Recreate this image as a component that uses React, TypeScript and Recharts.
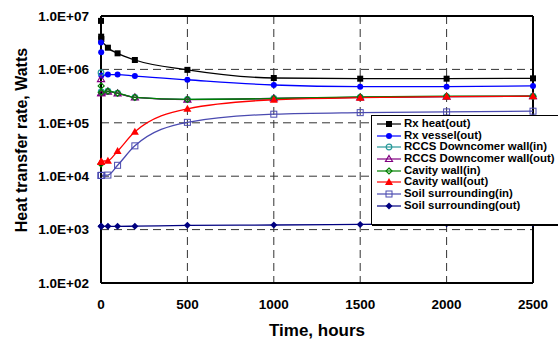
import React from "react";
import {
  LineChart,
  Line,
  XAxis,
  YAxis,
  CartesianGrid,
  ReferenceLine,
} from "recharts";

const times = [0, 1, 2, 40, 96, 196, 500, 1000, 1500, 2000, 2500];

const rxHeat = [8.1e6, 4.1e6, 3.7e6, 2.55e6, 2.0e6, 1.5e6, 9.8e5, 6.9e5, 6.7e5, 6.7e5, 6.8e5];
const rxVessel = [3.2e6, 2.1e6, 7.7e5, 8.0e5, 8.0e5, 7.5e5, 6.4e5, 5.1e5, 4.75e5, 4.75e5, 4.9e5];
const rccsIn = [8.7e5, 3.8e5, 3.7e5, 3.9e5, 3.6e5, 3.0e5, 2.75e5, 2.85e5, 3.0e5, 3.1e5, 3.15e5];
const rccsOut = [6.6e5, 3.6e5, 3.6e5, 3.85e5, 3.55e5, 3.0e5, 2.72e5, 2.85e5, 3.0e5, 3.1e5, 3.15e5];
const cavityIn = [1.7e4, 4.9e5, 3.7e5, 3.9e5, 3.6e5, 3.0e5, 2.75e5, 2.85e5, 3.05e5, 3.15e5, 3.15e5];
const cavityOut = [1.86e4, 1.86e4, 1.9e4, 1.95e4, 2.95e4, 6.8e4, 1.83e5, 2.7e5, 2.95e5, 3.1e5, 3.15e5];
const soilIn = [1.03e4, 1.03e4, 1.04e4, 1.05e4, 1.6e4, 3.7e4, 1.02e5, 1.45e5, 1.55e5, 1.6e5, 1.65e5];
const soilOut = [1.15e3, 1.15e3, 1.15e3, 1.15e3, 1.15e3, 1.16e3, 1.2e3, 1.22e3, 1.25e3, 1.28e3, 1.3e3];

const xTicks = [0, 500, 1000, 1500, 2000, 2500];
const yTicks = [1e2, 1e3, 1e4, 1e5, 1e6, 1e7];

const FONT = "'Liberation Sans', Arial, sans-serif";

type Shape = "square" | "circle" | "ocircle" | "otriangle" | "odiamond" | "triangle" | "osquare" | "diamond";

const series: { key: string; name: string; color: string; shape: Shape; values: number[] }[] = [
  { key: "rxHeat", name: "Rx heat(out)", color: "#000000", shape: "square", values: rxHeat },
  { key: "rxVessel", name: "Rx vessel(out)", color: "#0000ff", shape: "circle", values: rxVessel },
  { key: "rccsIn", name: "RCCS Downcomer wall(in)", color: "#2a9a9a", shape: "ocircle", values: rccsIn },
  { key: "rccsOut", name: "RCCS Downcomer wall(out)", color: "#800080", shape: "otriangle", values: rccsOut },
  { key: "cavityIn", name: "Cavity wall(in)", color: "#008000", shape: "odiamond", values: cavityIn },
  { key: "cavityOut", name: "Cavity wall(out)", color: "#ff0000", shape: "triangle", values: cavityOut },
  { key: "soilIn", name: "Soil surrounding(in)", color: "#4a4ab0", shape: "osquare", values: soilIn },
  { key: "soilOut", name: "Soil surrounding(out)", color: "#000080", shape: "diamond", values: soilOut },
];

const data = times.map((t, i) => {
  const row: Record<string, number> = { t };
  series.forEach((s) => (row[s.key] = s.values[i]));
  return row;
});

function marker(shape: Shape, color: string, cx: number, cy: number, key?: React.Key) {
  switch (shape) {
    case "square":
      return <rect key={key} x={cx - 3} y={cy - 3} width={6} height={6} fill={color} />;
    case "circle":
      return <circle key={key} cx={cx} cy={cy} r={3} fill={color} />;
    case "ocircle":
      return <circle key={key} cx={cx} cy={cy} r={2.8} fill="none" stroke={color} strokeWidth={1.2} />;
    case "otriangle":
      return (
        <polygon key={key} points={`${cx},${cy - 3.5} ${cx + 3.5},${cy + 2.5} ${cx - 3.5},${cy + 2.5}`}
          fill="none" stroke={color} strokeWidth={1.2} />
      );
    case "odiamond":
      return (
        <polygon key={key} points={`${cx},${cy - 3} ${cx + 3},${cy} ${cx},${cy + 3} ${cx - 3},${cy}`}
          fill="none" stroke={color} strokeWidth={1.2} />
      );
    case "triangle":
      return (
        <polygon key={key} points={`${cx},${cy - 4} ${cx + 4},${cy + 3} ${cx - 4},${cy + 3}`} fill={color} />
      );
    case "osquare":
      return (
        <rect key={key} x={cx - 3} y={cy - 3} width={6} height={6} fill="none" stroke={color} strokeWidth={1} />
      );
    case "diamond":
      return (
        <polygon key={key} points={`${cx},${cy - 3.5} ${cx + 3.5},${cy} ${cx},${cy + 3.5} ${cx - 3.5},${cy}`}
          fill={color} />
      );
  }
}

// legend box sits over the plot, cut off at the right edge like the original
const LegendBox = () => (
  <div
    style={{
      position: "absolute",
      left: 371,
      top: 115,
      background: "#fff",
      border: "1px solid #000",
      boxShadow: "1px 1px 0 #000",
      padding: "2px 0 12px 5px",
      width: 200,
      fontFamily: FONT,
      fontWeight: "bold",
      fontSize: 11,
      lineHeight: "11.7px",
      color: "#000",
    }}
  >
    {series.map((s) => (
      <div key={s.key} style={{ display: "flex", alignItems: "center", height: 11.7, whiteSpace: "nowrap" }}>
        <svg width={26} height={10} style={{ marginRight: 1, flexShrink: 0 }}>
          <line x1={0} y1={5} x2={24} y2={5} stroke={s.color} strokeWidth={1.2} />
          {marker(s.shape, s.color, 12, 5)}
        </svg>
        <span style={{ fontSize: 11.4, lineHeight: "11.7px" }}>{s.name}</span>
      </div>
    ))}
  </div>
);

const fmtY = (v: number) => `1.0E+0${Math.round(Math.log10(v))}`;

export default function App() {
  return (
    <div style={{ position: "absolute", left: 0, top: 0, width: 558, height: 340, overflow: "hidden", background: "#fff" }}>
      <LineChart width={558} height={340} data={data} margin={{ top: 16, right: 25, bottom: 27, left: 0 }}>
        <CartesianGrid stroke="#333" strokeDasharray="8 5" strokeWidth={1} />
        <XAxis
          dataKey="t"
          type="number"
          domain={[0, 2500]}
          ticks={xTicks}
          height={30}
          tickLine={false}
          tickSize={0}
          tickMargin={16}
          axisLine={{ stroke: "#000", strokeWidth: 2 }}
          tick={{ fill: "#000", fontSize: 13.5, fontWeight: "bold", fontFamily: FONT }}
        />
        <YAxis
          scale="log"
          domain={[1e2, 1e7]}
          ticks={yTicks}
          allowDataOverflow
          width={101}
          tickLine={false}
          tickSize={0}
          tickMargin={12}
          tickFormatter={fmtY}
          axisLine={{ stroke: "#000", strokeWidth: 2 }}
          tick={{ fill: "#000", fontSize: 13.5, fontWeight: "bold", fontFamily: FONT }}
        />
        <ReferenceLine y={1e7} stroke="#000" strokeWidth={2} />
        <ReferenceLine x={2500} stroke="#000" strokeWidth={2} />
        {series.map((s) => (
          <Line
            key={s.key}
            dataKey={s.key}
            name={s.name}
            type="monotone"
            stroke={s.color}
            strokeWidth={1.3}
            isAnimationActive={false}
            dot={(p: any) => marker(s.shape, s.color, p.cx, p.cy, `${s.key}-${p.index}`)}
            activeDot={false}
          />
        ))}
      </LineChart>
      <LegendBox />
      <div
        style={{
          position: "absolute",
          left: 22,
          top: 140,
          transform: "translate(-50%, -50%) rotate(-90deg)",
          whiteSpace: "nowrap",
          fontFamily: FONT,
          fontWeight: "bold",
          fontSize: 16,
        }}
      >
        Heat transfer rate, Watts
      </div>
      <div
        style={{
          position: "absolute",
          left: 317,
          top: 331,
          transform: "translate(-50%, -50%)",
          whiteSpace: "nowrap",
          fontFamily: FONT,
          fontWeight: "bold",
          fontSize: 17,
        }}
      >
        Time, hours
      </div>
    </div>
  );
}
